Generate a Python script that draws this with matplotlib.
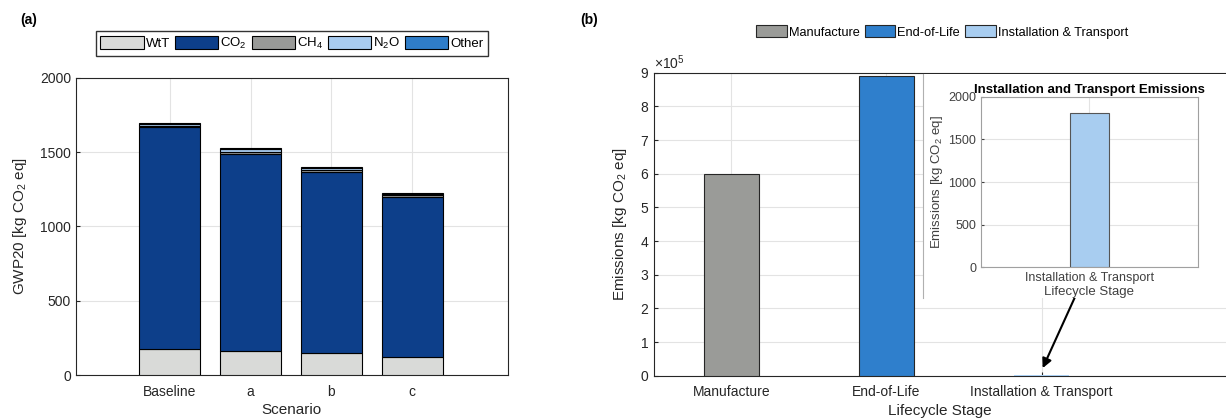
import numpy as np
import matplotlib.pyplot as plt
from matplotlib.ticker import ScalarFormatter
from matplotlib.patches import Patch

plt.rcParams['font.family'] = ['Liberation Sans', 'DejaVu Sans']
plt.rcParams['mathtext.fontset'] = 'custom'
plt.rcParams['mathtext.rm'] = 'Liberation Sans'
plt.rcParams['mathtext.it'] = 'Liberation Sans:italic'
plt.rcParams['font.size'] = 9
plt.rcParams['axes.edgecolor'] = '#262626'
plt.rcParams['xtick.color'] = '#262626'
plt.rcParams['ytick.color'] = '#262626'

# panel (a) data
scenarios = ['Baseline', 'a', 'b', 'c']
wtt = [173, 160, 146, 123]
co2 = [1494, 1328, 1223, 1078]
ch4 = [9, 12, 10, 8]
n2o = [15, 22, 17, 12]
other = [4, 4, 3, 3]
gas_labels = ['WtT', 'CO$_2$', 'CH$_4$', 'N$_2$O', 'Other']
gas_colors = ['#d9dad8', '#0d3f8a', '#999a98', '#a8cbef', '#2f7dc8']

# panel (b) data
stages = ['Manufacture', 'End-of-Life', 'Installation & Transport']
stage_emissions = [5.98e5, 8.9e5, 1810]
stage_colors = ['#9a9b98', '#2f7fcc', '#a8cdf0']

fig = plt.figure(figsize=(12.26, 4.19), dpi=100)

grid_kw = dict(color='#e3e3e3', lw=0.8)

# ---------- panel (a) ----------
ax1 = fig.add_axes([0.062, 0.105, 0.352, 0.709])
x = np.arange(1, len(scenarios) + 1)
layers = [wtt, co2, ch4, n2o, other]
bottom = np.zeros(len(scenarios))
for vals, col, lab in zip(layers, gas_colors, gas_labels):
    ax1.bar(x, vals, bottom=bottom, width=0.75, color=col, edgecolor='black',
            linewidth=0.8, label=lab, zorder=3)
    bottom += np.array(vals)
ax1.set_xlim(-0.16, 5.18)
ax1.set_ylim(0, 2000)
ax1.set_yticks([0, 500, 1000, 1500, 2000])
ax1.set_xticks(x)
ax1.set_xticklabels(scenarios)
ax1.tick_params(direction='in', length=3, labelsize=10)
ax1.tick_params(axis='x', pad=7)
ax1.grid(True, **grid_kw)
ax1.set_axisbelow(True)
ax1.set_xlabel('Scenario', fontsize=11, color='#262626', labelpad=3)
ax1.set_ylabel('GWP20 [kg CO$_2$ eq]', fontsize=11, color='#262626', labelpad=8)

handles = [Patch(facecolor=c, edgecolor='black', linewidth=0.8) for c in gas_colors]
fig.legend(handles, gas_labels, loc='center', bbox_to_anchor=(292 / 1226, 1 - 43.5 / 419),
           ncol=5, frameon=True, fancybox=False, edgecolor='black', fontsize=9.5,
           handlelength=3.3, handleheight=1.1, handletextpad=0.15, columnspacing=0.35,
           borderpad=0.35, borderaxespad=0)

fig.text(20 / 1226, 1 - 20 / 419, '(a)', fontsize=10, fontweight='bold', va='center')

# ---------- panel (b) ----------
ax2 = fig.add_axes([0.5334, 0.1033, 0.4666, 0.7232])
xs = np.arange(1, len(stages) + 1)
ax2.bar(xs, stage_emissions, width=0.35, color=stage_colors, edgecolor='#262626',
        linewidth=[0.8, 0.8, 0], zorder=3)
ax2.set_xlim(0.5, 4.19)
ax2.set_ylim(0, 9e5)
ax2.set_yticks(np.arange(0, 10) * 1e5)
ax2.set_xticks(xs)
ax2.set_xticklabels(stages)
fmt = ScalarFormatter(useMathText=True)
fmt.set_powerlimits((0, 0))
ax2.yaxis.set_major_formatter(fmt)
ax2.yaxis.get_offset_text().set_fontsize(10)
ax2.tick_params(direction='in', length=3, labelsize=10)
ax2.tick_params(axis='x', pad=7)
ax2.grid(True, **grid_kw)
ax2.set_axisbelow(True)
ax2.spines['right'].set_visible(False)
ax2.set_xlabel('Lifecycle Stage', fontsize=11, color='#262626', labelpad=3)
ax2.set_ylabel('Emissions [kg CO$_2$ eq]', fontsize=11, color='#262626', labelpad=8)

handles2 = [Patch(facecolor=c, edgecolor='#262626', linewidth=0.8) for c in stage_colors]
fig.legend(handles2, stages, loc='center', bbox_to_anchor=(942 / 1226, 1 - 32 / 419),
           ncol=3, frameon=False, fontsize=9.2, handlelength=2.4, handleheight=1.0,
           handletextpad=0.15, columnspacing=0.4, borderaxespad=0)

fig.text(580 / 1226, 1 - 20 / 419, '(b)', fontsize=10, fontweight='bold', va='center')

# white panel behind the inset
bg = fig.add_axes([0.7529, 0.2888, 0.2471, 0.535])
bg.set_facecolor('white')
bg.set_xticks([])
bg.set_yticks([])
for s in ['top', 'right', 'bottom']:
    bg.spines[s].set_visible(False)
bg.spines['left'].set_color('#b0b0b0')
bg.spines['left'].set_linewidth(0.8)

# inset
ax3 = fig.add_axes([0.8002, 0.362, 0.1767, 0.407])
ax3.bar([1], [stage_emissions[2]], width=0.36, color=stage_colors[2],
        edgecolor='#555555', linewidth=0.8, zorder=3)
ax3.set_xlim(0, 2)
ax3.set_ylim(0, 2000)
ax3.set_yticks([0, 500, 1000, 1500, 2000])
ax3.set_xticks([1])
ax3.set_xticklabels([stages[2]])
ax3.tick_params(direction='in', length=2, labelsize=9, colors='#404040')
for s in ax3.spines.values():
    s.set_color('#a0a0a0')
ax3.grid(True, **grid_kw)
ax3.set_axisbelow(True)
ax3.set_title('Installation and Transport Emissions', fontsize=9.5, fontweight='bold', pad=3)
ax3.set_xlabel('Lifecycle Stage', fontsize=9.5, color='#404040', labelpad=1)
ax3.set_ylabel('Emissions [kg CO$_2$ eq]', fontsize=9.5, color='#404040', labelpad=2)

# arrow from inset to the tiny bar
ax2.annotate('', xy=(3, 0.15e5), xycoords='data',
             xytext=(1080 / 1226, 1 - 286 / 419), textcoords='figure fraction',
             arrowprops=dict(arrowstyle='-|>', color='black', lw=1.5,
                             mutation_scale=14))

fig.savefig('out.png', dpi=100)
